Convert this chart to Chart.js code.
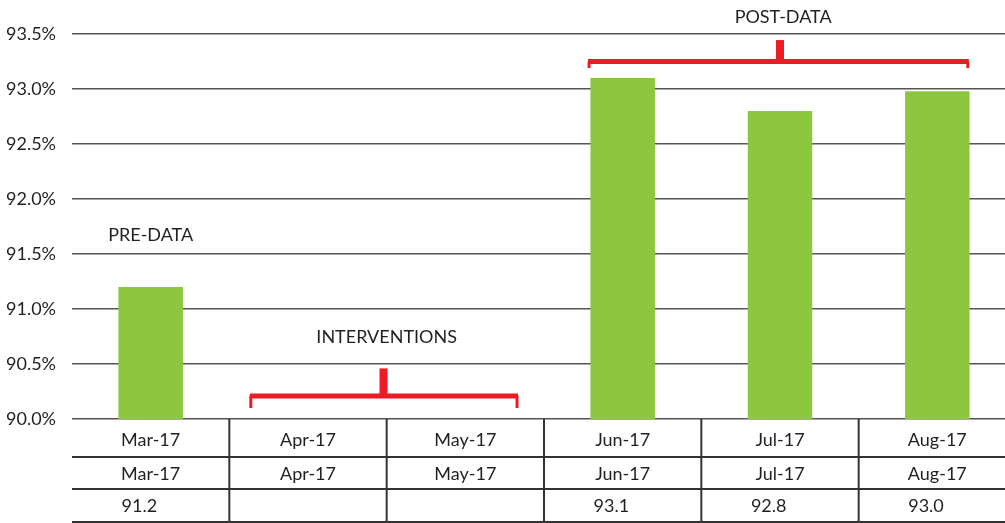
<!DOCTYPE html>
<html>
<head>
<meta charset="utf-8">
<script src="https://cdn.jsdelivr.net/npm/chart.js@4"></script>
<style>
  html, body { margin:0; padding:0; background:#fff; overflow:hidden; }
  #wrap { width:1016px; height:523px; }
</style>
</head>
<body>
<div id="wrap"><canvas id="c"></canvas></div>
<script>
const months = ['Mar-17','Apr-17','May-17','Jun-17','Jul-17','Aug-17'];
const barValues = [91.2, null, null, 93.1, 92.8, 92.98];
const tableValues = ['91.2','','','93.1','92.8','93.0'];

// group brackets: from/to/mid in category index units, y levels in %
const groupNames = ['PRE-DATA','INTERVENTIONS','POST-DATA'];
const groupTextPos = [[0, 91.67], [1.5, 90.74], [4.02, 93.65]];
const bracketSpans = [null, [0.63, 2.335, 1.48], [2.78, 5.2, 4.0]];
const bracketLevels = [null, [90.21, 90.1, 90.46], [93.25, 93.19, 93.445]];

const FONT = 'Lato, "DejaVu Sans", sans-serif';
const TEXT = '#231f20';
const RED = '#ed1c24';

const tablePlugin = {
  id: 'table',
  afterDraw(chart){
    const { ctx, chartArea } = chart;
    const x = chart.scales.x, y = chart.scales.y;
    const top = y.getPixelForValue(90);
    const rows = [top, top + 38, top + 70, top + 103];
    ctx.save();
    ctx.strokeStyle = '#333';
    ctx.lineWidth = 2;
    rows.slice(1).forEach(ry => {
      ctx.beginPath(); ctx.moveTo(chartArea.left, ry); ctx.lineTo(chartArea.right, ry); ctx.stroke();
    });
    for(let i = 1; i < months.length; i++){
      const vx = x.getPixelForValue(i - 0.5);
      ctx.beginPath(); ctx.moveTo(vx, top); ctx.lineTo(vx, rows[3]); ctx.stroke();
    }
    ctx.fillStyle = TEXT;
    ctx.font = '18px ' + FONT;
    ctx.textBaseline = 'middle';
    months.forEach((m, i) => {
      const cx = x.getPixelForValue(i);
      ctx.textAlign = 'center';
      ctx.fillText(m, cx, (rows[0] + rows[1]) / 2 + 2);
      ctx.fillText(m, cx, (rows[1] + rows[2]) / 2 + 1);
      ctx.textAlign = 'left';
      ctx.fillText(tableValues[i], x.getPixelForValue(i - 0.185), (rows[2] + rows[3]) / 2 + 1);
    });

    // group labels and brackets
    ctx.textAlign = 'center';
    groupNames.forEach((g, i) => {
      const [tx, ty] = groupTextPos[i];
      ctx.fillText(g, x.getPixelForValue(tx), y.getPixelForValue(ty));
      const span = bracketSpans[i];
      if(!span) return;
      const [yh, ye, yt] = bracketLevels[i];
      const x0 = x.getPixelForValue(span[0]), x1 = x.getPixelForValue(span[1]), xm = x.getPixelForValue(span[2]);
      const py = y.getPixelForValue(yh), pe = y.getPixelForValue(ye), pt = y.getPixelForValue(yt);
      ctx.strokeStyle = RED;
      ctx.lineWidth = 5;
      ctx.lineCap = 'butt';
      ctx.beginPath(); ctx.moveTo(x0, py); ctx.lineTo(x1, py); ctx.stroke();
      ctx.lineWidth = 3;
      ctx.beginPath(); ctx.moveTo(x0 + 1, py); ctx.lineTo(x0 + 1, pe); ctx.stroke();
      ctx.beginPath(); ctx.moveTo(x1 - 1, py); ctx.lineTo(x1 - 1, pe); ctx.stroke();
      ctx.lineWidth = 8;
      ctx.beginPath(); ctx.moveTo(xm, py); ctx.lineTo(xm, pt); ctx.stroke();
    });
    ctx.restore();
  }
};

new Chart(document.getElementById('c'), {
  type: 'bar',
  data: {
    labels: months,
    datasets: [{ data: barValues, backgroundColor: '#8dc63f', barPercentage: 0.41, categoryPercentage: 1 }]
  },
  options: {
    responsive: true,
    maintainAspectRatio: false,
    animation: false,
    layout: { padding: { top: 34, bottom: 104, left: 0, right: 0 } },
    plugins: { legend: { display: false }, tooltip: { enabled: false } },
    scales: {
      x: { display: false },
      y: {
        min: 90, max: 93.5,
        z: 1,
        afterFit(s){ s.width = 72; },
        border: { display: false },
        grid: { color: '#555', lineWidth: 1.5, drawTicks: false },
        ticks: {
          stepSize: 0.5, padding: 16, color: TEXT,
          font: { family: FONT, size: 18 },
          callback: v => v.toFixed(1) + '%'
        }
      }
    }
  },
  plugins: [tablePlugin]
});
</script>
</body>
</html>
